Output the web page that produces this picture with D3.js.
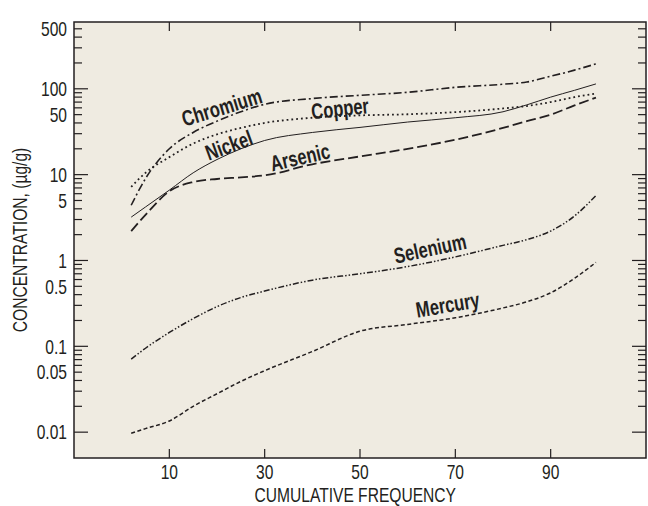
<!DOCTYPE html>
<html>
<head>
<meta charset="utf-8">
<script src="https://cdn.jsdelivr.net/npm/d3@7"></script>
<style>
  body { margin: 0; background: #fff; }
  #myPlot { width: 648px; height: 506px; }
  text { font-family: "Liberation Sans", Arial, sans-serif; fill: #231f20; }
</style>
</head>
<body>
<div id="myPlot"></div>
<script>
const rootSelector = "#myPlot"

// cumulative frequency grid shared by every series
const frequency = [2, 5, 10, 15, 20, 25, 30, 40, 50, 60, 70, 80, 85, 90, 95, 99.5]

const chromium = [4.4, 9, 20, 31, 42, 54, 66, 77, 84, 91, 104, 113, 120, 140, 165, 195]
const copper   = [7.2, 10.5, 16, 23, 29.5, 35, 40, 46, 49, 50.5, 53.5, 59, 63, 70, 80, 88]
const nickel   = [3.2, 4.2, 6.6, 10.5, 15, 20, 25, 31, 35.5, 41, 46, 54, 65, 80, 96, 114]
const arsenic  = [2.2, 3.4, 6.4, 8.2, 8.9, 9.3, 9.8, 13.2, 16.3, 20, 25.5, 35, 42, 50, 64, 79]
const selenium = [0.071, 0.095, 0.145, 0.21, 0.29, 0.37, 0.44, 0.59, 0.70, 0.85, 1.1, 1.5, 1.75, 2.2, 3.3, 5.7]
const mercury  = [0.0097, 0.011, 0.0135, 0.020, 0.028, 0.039, 0.052, 0.087, 0.15, 0.18, 0.215, 0.28, 0.33, 0.42, 0.62, 0.95]

const seriesNames = ["Chromium", "Copper", "Nickel", "Arsenic", "Selenium", "Mercury"]
const seriesValues = [chromium, copper, nickel, arsenic, selenium, mercury]

// label anchors in data units
const labelFreq = [21, 45.8, 22.5, 37.4, 64.7, 68.4]
const labelConc = [61, 59, 22, 16, 1.38, 0.305]
const labelAngle = [-17, -6, -20, -13, -12, -9.5]

const xTicks = [10, 30, 50, 70, 90]
const yTickLabels = [500, 100, 50, 10, 5, 1, 0.5, 0.1, 0.05, 0.01]

const ink = "#231f20"
const dashes = ["8,3,2,3", "1.8,3", null, "10,4", "6,2,1.5,2,1.5,2", "4,2.5"]
const widths = [1.6, 1.8, 1, 1.8, 1.5, 1.5]
const narrow = 0.78

const margin = {top: 22, right: 2, bottom: 48, left: 74}
const clientWidth = 648
const clientHeight = 506
const width = clientWidth - margin.left - margin.right
const height = clientHeight - margin.top - margin.bottom

let svg = d3.select(rootSelector).append("svg")
    .attr("width", clientWidth)
    .attr("height", clientHeight)
    .append("g")
    .attr("transform", `translate(${margin.left}, ${margin.top})`)

const xScale = d3.scaleLinear().domain([-10, 110]).range([0, width])
const yScale = d3.scaleLog().domain([0.005, 600]).range([height, 0])

svg.append("rect")
    .attr("width", width)
    .attr("height", height)
    .attr("fill", "#efebe1")

// log ticks: 1..9 in every decade from 0.01 up to 500
const yTicks = []
for (let e = -2; e <= 2; e++) {
    for (let m = 1; m <= 9; m++) {
        const v = +(m * Math.pow(10, e)).toPrecision(3)
        if (v <= 500) yTicks.push(v)
    }
}
const isMajor = v => Math.abs(Math.log10(v) - Math.round(Math.log10(v))) < 1e-9

const ticksG = svg.append("g").attr("stroke", ink).attr("stroke-width", 1.2)
ticksG.selectAll(".yl").data(yTicks).enter().append("line")
    .attr("x1", 0).attr("x2", v => isMajor(v) ? 14 : 8)
    .attr("y1", v => yScale(v)).attr("y2", v => yScale(v))
ticksG.selectAll(".yr").data(yTicks).enter().append("line")
    .attr("x1", width).attr("x2", v => width - (isMajor(v) ? 14 : 8))
    .attr("y1", v => yScale(v)).attr("y2", v => yScale(v))
ticksG.selectAll(".xb").data(xTicks).enter().append("line")
    .attr("x1", v => xScale(v)).attr("x2", v => xScale(v))
    .attr("y1", height).attr("y2", height - 9)
ticksG.selectAll(".xt").data(xTicks).enter().append("line")
    .attr("x1", v => xScale(v)).attr("x2", v => xScale(v))
    .attr("y1", 0).attr("y2", 9)

svg.append("rect")
    .attr("width", width)
    .attr("height", height)
    .attr("fill", "none")
    .attr("stroke", ink)
    .attr("stroke-width", 1.5)

svg.selectAll(".xlab").data(xTicks).enter().append("text")
    .attr("transform", v => `translate(${xScale(v)}, ${height + 21}) scale(${narrow}, 1)`)
    .attr("text-anchor", "middle")
    .attr("font-size", 20)
    .text(d => d)

svg.selectAll(".ylab").data(yTickLabels).enter().append("text")
    .attr("transform", v => `translate(-7, ${yScale(v)}) scale(${narrow}, 1)`)
    .attr("dy", "0.36em")
    .attr("text-anchor", "end")
    .attr("font-size", 20)
    .text(d => d)

svg.append("text")
    .attr("transform", `translate(${xScale(49)}, ${height + 44}) scale(${narrow}, 1)`)
    .attr("text-anchor", "middle")
    .attr("font-size", 20)
    .text("CUMULATIVE FREQUENCY")

svg.append("text")
    .attr("transform", `translate(${-47}, ${height / 2}) rotate(-90) scale(${narrow}, 1)`)
    .attr("text-anchor", "middle")
    .attr("font-size", 20)
    .text("CONCENTRATION, (\u00b5g/g)")

const line = d3.line()
    .x((d, i) => xScale(frequency[i]))
    .y(d => yScale(d))
    .curve(d3.curveMonotoneX)

svg.selectAll(".series").data(seriesValues).enter().append("path")
    .attr("class", "series")
    .attr("d", d => line(d))
    .attr("fill", "none")
    .attr("stroke", ink)
    .attr("stroke-width", (d, i) => widths[i])
    .attr("stroke-dasharray", (d, i) => dashes[i])

svg.selectAll(".slab").data(seriesNames).enter().append("text")
    .attr("transform", (d, i) => `translate(${xScale(labelFreq[i])}, ${yScale(labelConc[i])}) rotate(${labelAngle[i]}) scale(0.75, 1)`)
    .attr("text-anchor", "middle")
    .attr("dy", "0.35em")
    .attr("font-size", 22)
    .attr("font-weight", "bold")
    .text(d => d)
</script>
</body>
</html>
